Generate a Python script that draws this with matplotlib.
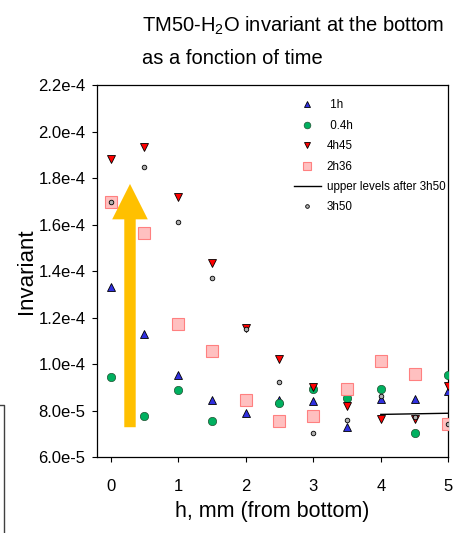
"""
TM50-H2O invariant at the bottom as a function of time
"""
import matplotlib
matplotlib.use('Agg')
import matplotlib.pyplot as plt
from matplotlib.lines import Line2D
from matplotlib.patches import FancyArrow

plt.rcParams['font.family'] = ['Liberation Sans', 'DejaVu Sans']
plt.rcParams['mathtext.default'] = 'regular'

# data
h = [0, 0.5, 1, 1.5, 2, 2.5, 3, 3.5, 4, 4.5, 5]
inv_1h = [1.334e-4, 1.129e-4, 9.54e-5, 8.47e-5, 7.90e-5, 8.45e-5,
          8.44e-5, 7.32e-5, 8.50e-5, 8.50e-5, 8.86e-5]
h_04h = [0, 0.5, 1, 1.5, 2.5, 3, 3.5, 4, 4.5, 5]
inv_04h = [9.44e-5, 7.80e-5, 8.90e-5, 7.55e-5, 8.35e-5,
           8.94e-5, 8.57e-5, 8.94e-5, 7.07e-5, 9.54e-5]
inv_4h45 = [1.881e-4, 1.932e-4, 1.720e-4, 1.437e-4, 1.155e-4, 1.022e-4,
            9.04e-5, 8.21e-5, 7.65e-5, 7.65e-5, 9.08e-5]
inv_2h36 = [1.696e-4, 1.563e-4, 1.172e-4, 1.057e-4, 8.46e-5, 7.57e-5,
            7.78e-5, 8.94e-5, 1.016e-4, 9.57e-5, 7.42e-5]
inv_3h50 = [1.696e-4, 1.849e-4, 1.610e-4, 1.370e-4, 1.150e-4, 9.26e-5,
            7.04e-5, 7.61e-5, 8.64e-5, 7.73e-5, 7.42e-5]
h_upper = [4, 5]
inv_upper = [7.85e-5, 7.90e-5]

# orange arrow (x position, bottom, top)
arrow_x = 0.286
arrow_y0 = 7.30e-5
arrow_y1 = 1.775e-4

y_ticks = [6.0e-5, 8.0e-5, 1.0e-4, 1.2e-4, 1.4e-4, 1.6e-4, 1.8e-4, 2.0e-4, 2.2e-4]
y_tick_labels = ['6.0e-5', '8.0e-5', '1.0e-4', '1.2e-4', '1.4e-4',
                 '1.6e-4', '1.8e-4', '2.0e-4', '2.2e-4']
x_ticks = [0, 1, 2, 3, 4, 5]

fig = plt.figure(figsize=(4.57, 5.33), dpi=100)
ax = fig.add_axes([0.2116, 0.1417, 0.7694, 0.6988])

ax.add_patch(FancyArrow(arrow_x, arrow_y0, 0, arrow_y1 - arrow_y0,
                        width=0.169, head_width=0.527, head_length=1.52e-5,
                        length_includes_head=True, color='#FFC000', lw=0,
                        zorder=1))

ax.plot(h, inv_1h, ls='none', marker='^', ms=6, mfc='#3030E0', mec='black',
        mew=0.6, label=' 1h', zorder=3)
ax.plot(h_04h, inv_04h, ls='none', marker='o', ms=6, mfc='#00B060',
        mec='#205030', mew=0.5, label=' 0.4h', zorder=3)
ax.plot(h, inv_4h45, ls='none', marker='v', ms=6, mfc='#FF0000', mec='black',
        mew=0.6, label='4h45', zorder=3)
ax.plot(h, inv_2h36, ls='none', marker='s', ms=8, mfc='#FFC0C0',
        mec='#FF8080', mew=0.8, label='2h36', zorder=3)
ax.plot(h_upper, inv_upper, color='black', lw=1, label='upper levels after 3h50',
        zorder=3)
ax.plot(h, inv_3h50, ls='none', marker='o', ms=3.3, mfc='#B0B0B0',
        mec='black', mew=0.6, label='3h50', zorder=4)

ax.set_xlim(-0.207, 5.0)
ax.set_ylim(6.0e-5, 2.2e-4)
ax.set_xticks(x_ticks)
ax.set_yticks(y_ticks)
ax.set_yticklabels(y_tick_labels)
ax.tick_params(axis='both', direction='out', length=3.6, width=0.8,
               labelsize=12, top=False, right=False)
ax.tick_params(axis='x', pad=12)
ax.tick_params(axis='y', pad=4.5)
for s in ax.spines.values():
    s.set_linewidth(0.9)

ax.set_xlabel('h, mm (from bottom)', fontsize=15.5, labelpad=5)
ax.set_ylabel('Invariant', fontsize=16, labelpad=1)

leg = ax.legend(loc='upper left', bbox_to_anchor=(0.643, 0.8135),
                bbox_transform=fig.transFigure, frameon=False, fontsize=8.4,
                handlelength=2.3, handletextpad=0.5, labelspacing=0.72,
                borderpad=0, borderaxespad=0, numpoints=1, markerscale=0.8)

fig.text(141.7 / 457, 1 - 31.7 / 533, 'TM50-H$_2$O invariant at the bottom',
         fontsize=14.5, va='baseline', ha='left')
fig.text(141.7 / 457, 1 - 64 / 533, 'as a fonction of time',
         fontsize=14.5, va='baseline', ha='left')

# corner of a neighbouring frame at the left edge
fig.add_artist(Line2D([0, 3.5 / 457, 3.5 / 457],
                      [1 - 405 / 533, 1 - 405 / 533, 0],
                      transform=fig.transFigure, color='#404040', lw=1))

fig.savefig('out.png', dpi=100)
